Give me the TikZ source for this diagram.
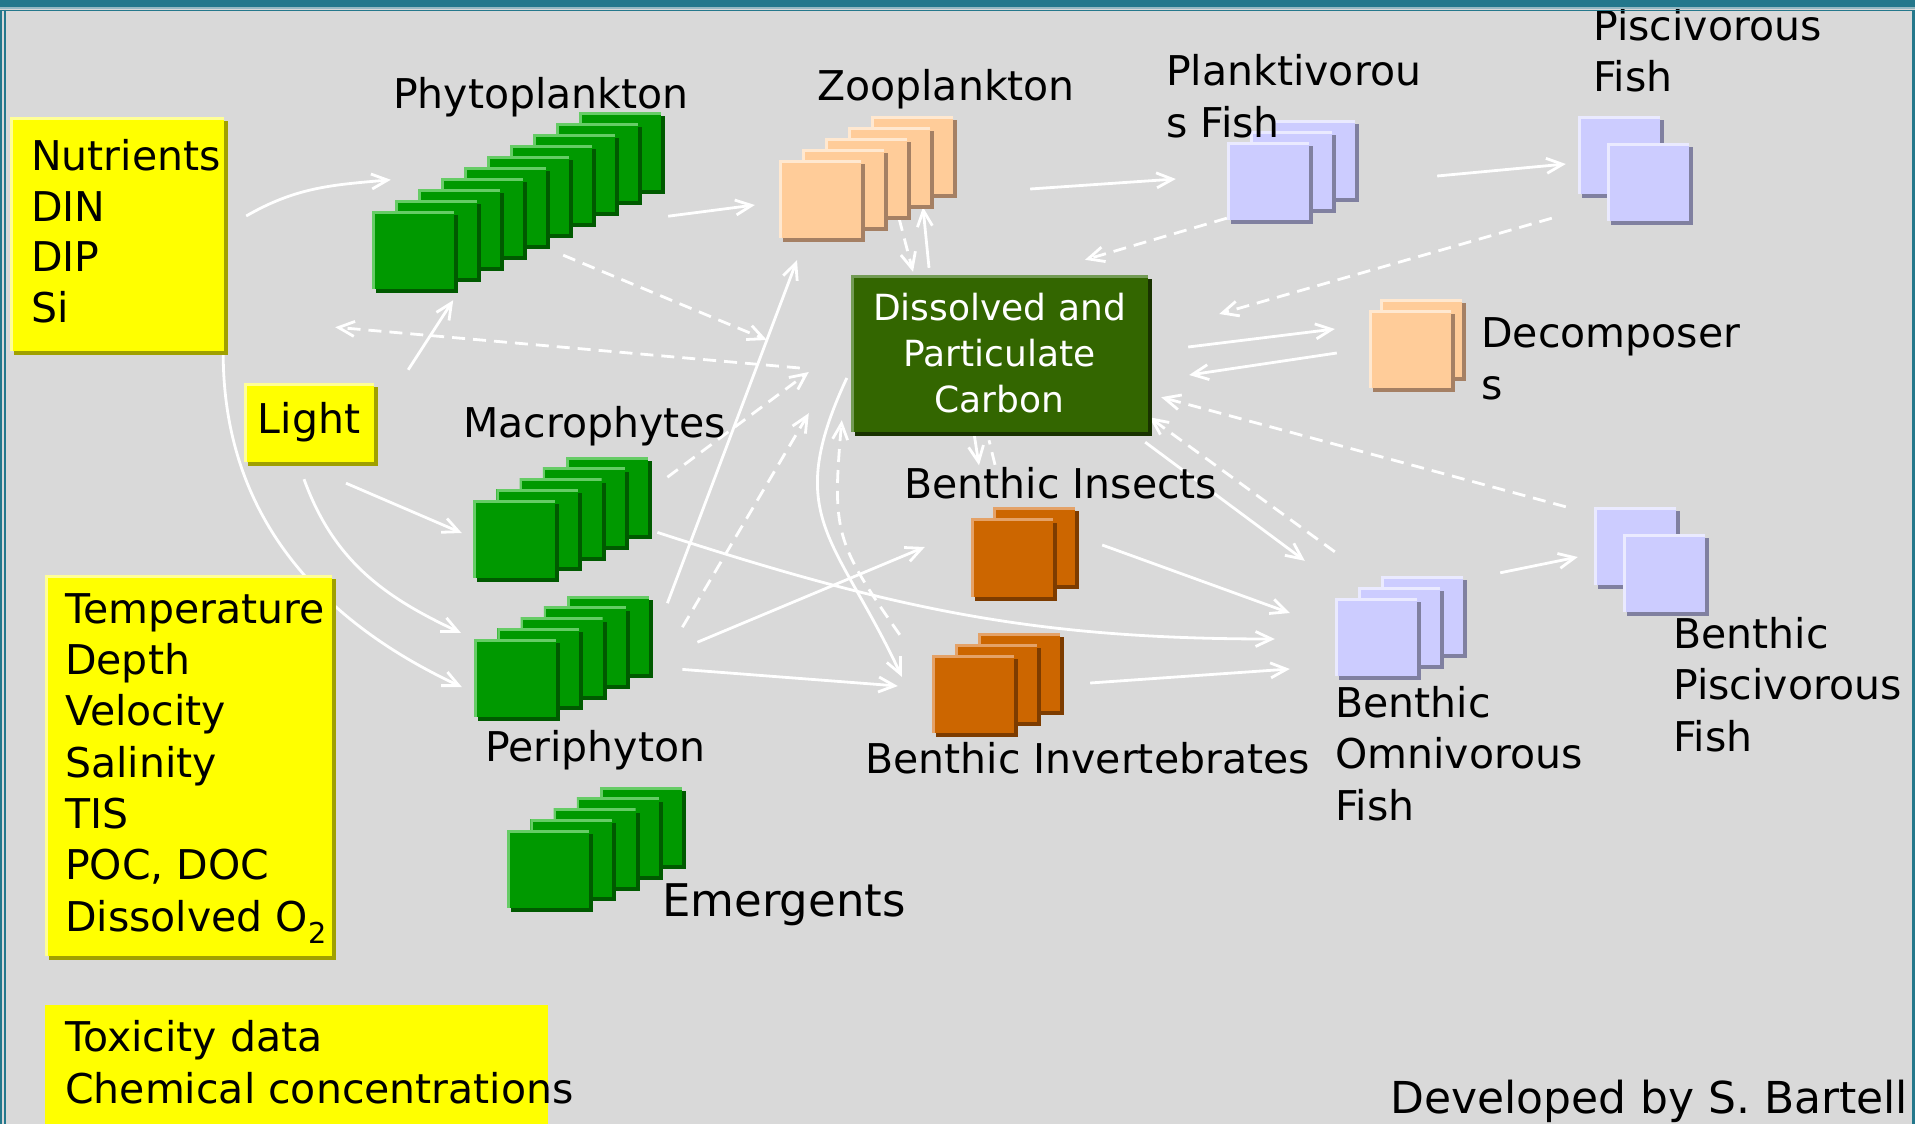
\documentclass[tikz,border=0pt]{standalone}
\usepackage{fontspec}
\setmainfont{DejaVu Sans}
\usetikzlibrary{arrows.meta,shadows}

\definecolor{bggray}{RGB}{217,217,217}
\definecolor{frame}{RGB}{36,120,140}
\definecolor{framelt}{RGB}{150,185,195}
\definecolor{grn}{RGB}{0,153,0}
\definecolor{grnlt}{RGB}{102,204,102}
\definecolor{grndk}{RGB}{0,90,0}
\definecolor{pch}{RGB}{255,204,153}
\definecolor{pchlt}{RGB}{255,232,208}
\definecolor{pchdk}{RGB}{165,128,100}
\definecolor{lav}{RGB}{204,204,255}
\definecolor{lavlt}{RGB}{234,234,255}
\definecolor{lavdk}{RGB}{128,128,160}
\definecolor{org}{RGB}{204,102,0}
\definecolor{orglt}{RGB}{228,162,104}
\definecolor{orgdk}{RGB}{125,60,0}
\definecolor{crb}{RGB}{51,102,0}
\definecolor{crblt}{RGB}{115,155,85}
\definecolor{crbdk}{RGB}{25,50,0}
\definecolor{ylw}{RGB}{255,255,0}
\definecolor{ylwlt}{RGB}{255,255,150}
\definecolor{ylwdk}{RGB}{160,160,0}

\pgfdeclarelayer{paper}
\pgfdeclarelayer{flow}
\pgfsetlayers{paper,flow,main}

\begin{document}
\begin{tikzpicture}[
	x=1pt, y=1pt,
	% multi-line labels are placed by the baseline of their last line
	lbl/.style={font=\fontsize{41}{51.3}\selectfont, align=left, anchor=base west, inner sep=0pt},
	pad/.style n args={3}{rectangle, inner sep=0pt, minimum width=82pt, minimum height=78pt, fill=#1,
		drop shadow={shadow xshift=4pt, shadow yshift=-4pt, fill=#3, opacity=1},
		path picture={\draw[line width=5pt,#2] (path picture bounding box.south west) |- (path picture bounding box.north east);}},
	gp/.style={pad={grn}{grnlt}{grndk}},
	pp/.style={pad={pch}{pchlt}{pchdk}},
	lp/.style={pad={lav}{lavlt}{lavdk}},
	op/.style={pad={org}{orglt}{orgdk}},
	ybox/.style={rectangle, inner sep=0pt, fill=ylw,
		drop shadow={shadow xshift=4pt, shadow yshift=-4pt, fill=ylwdk, opacity=1},
		path picture={\draw[line width=5pt,ylwlt] (path picture bounding box.south west) |- (path picture bounding box.north east);}},
	cbox/.style={rectangle, inner sep=0pt, minimum width=297pt, minimum height=157pt, fill=crb,
		text=white, align=center, font=\fontsize{36}{46}\selectfont,
		drop shadow={shadow xshift=4pt, shadow yshift=-4pt, fill=crbdk, opacity=1},
		path picture={\draw[line width=5pt,crblt] (path picture bounding box.south west) |- (path picture bounding box.north east);}},
	flow/.style={draw=white, line width=2.8pt, -{Straight Barb[length=16pt,width=15pt]}},
	dflow/.style={flow, dash pattern=on 13pt off 8pt},
	]
\useasboundingbox (0,0) rectangle (1915,-1124);
\begin{pgfonlayer}{paper}
	\fill[bggray] (0,0) rectangle (1915,-1124);
\end{pgfonlayer}

% producers
\foreach \i in {9,...,0}
	\node[gp] (phyto\i) at ({413+23*\i},{-250+11*\i}) {};
\foreach \i in {4,...,0}
	\node[gp] (macro\i) at ({514+23.3*\i},{-539+10.7*\i}) {};
\foreach \i in {4,...,0}
	\node[gp] (peri\i) at ({515+23.3*\i},{-678+10.7*\i}) {};
\foreach \i in {4,...,0}
	\node[gp] (emerg\i) at ({548+23.3*\i},{-869+10.7*\i}) {};

% consumers
\foreach \i in {4,...,0}
	\node[pp] (zoo\i) at ({820+23*\i},{-199+11*\i}) {};
\foreach \i in {2,...,0}
	\node[lp] (plankt\i) at ({1268+23*\i},{-181+11*\i}) {};
\node[lp] (pisc0) at (1619,-155) {};
\node[lp] (pisc1) at (1648,-182) {};
\node[pp] (decomp0) at (1421,-338) {};
\node[pp] (decomp1) at (1410,-349) {};
\node[op] (insect0) at (1034,-546) {};
\node[op] (insect1) at (1012,-557.5) {};
\foreach \i in {2,...,0}
	\node[op] (invert\i) at ({973+23*\i},{-694+11*\i}) {};
\foreach \i in {2,...,0}
	\node[lp] (omni\i) at ({1376+23*\i},{-637+11*\i}) {};
\node[lp] (bpisc0) at (1635,-546) {};
\node[lp] (bpisc1) at (1664,-573) {};

\node[cbox] (carbon) at (999.5,-353.5) {Dissolved and\\Particulate\\Carbon};

% driving data
\node[ybox, minimum width=214pt, minimum height=234pt] (nutr) at (117,-234) {};
\node[lbl, font=\fontsize{41}{50.5}\selectfont] (nutrtxt) at (31,-322) {Nutrients\\DIN\\DIP\\Si};
\node[ybox, minimum width=130pt, minimum height=79pt, font=\fontsize{41}{51.3}\selectfont] (light) at (309,-422.5) {Light};
\node[ybox, minimum width=287pt, minimum height=381pt] (env) at (188.5,-765.5) {};
\node[lbl] (envtxt) at (65,-931) {Temperature\\Depth\\Velocity\\Salinity\\TIS\\POC, DOC\\Dissolved O\textsubscript{2}};
\node[rectangle, inner sep=0pt, fill=ylw, minimum width=503pt, minimum height=119pt] (tox) at (296.5,-1064.5) {};
\node[lbl] (toxtxt) at (65,-1103) {Toxicity data\\Chemical concentrations};

% labels
\node[lbl] (phytolbl) at (393,-108) {Phytoplankton};
\node[lbl] (zoolbl) at (817,-100) {Zooplankton};
\node[lbl] (planktlbl) at (1166,-137) {Planktivorou\\s Fish};
\node[lbl] (pisclbl) at (1593,-92) {Piscivorous\\Fish};
\node[lbl] (macrolbl) at (463,-437) {Macrophytes};
\node[lbl] (perilbl) at (485,-761) {Periphyton};
\node[lbl, font=\fontsize{45}{54}\selectfont] (emerglbl) at (662,-916) {Emergents};
\node[lbl] (insectlbl) at (904,-498) {Benthic Insects};
\node[lbl] (invertlbl) at (865,-773) {Benthic Invertebrates};
\node[lbl] (decomplbl) at (1481,-399) {Decomposer\\s};
\node[lbl] (omnilbl) at (1335,-820) {Benthic\\Omnivorous\\Fish};
\node[lbl] (bpisclbl) at (1673,-751) {Benthic\\Piscivorous\\Fish};
\node[lbl, font=\fontsize{44}{53}\selectfont] (credit) at (1390,-1113) {Developed by S. Bartell};

% flows
\begin{pgfonlayer}{flow}
\draw[flow] ([shift={(22,18)}]nutr.east) to[out=30,in=185] ([shift={(19,31)}]phyto0.north west);
\draw[flow] ([shift={(34,13)}]light.north east) -- ([shift={(-1,-11)}]phyto0.south east);
\draw[flow] ([shift={(37,-21)}]light.south) -- ([shift={(-11,6)}]macro0.west);
\draw[flow] ([shift={(-5,-17)}]light.south) to[out=-70,in=155] ([shift={(-13,6)}]peri0.north west);
\draw[flow] ([shift={(-1,-2)}]nutr.south east) to[out=-90,in=155] ([shift={(-12,-9)}]peri0.west);
\draw[flow] ([shift={(7,-26)}]phyto9.south east) -- ([shift={(-24,-6)}]zoo0.west);
\draw[flow] ([shift={(18,32)}]peri4.east) -- ([shift={(-23,-22)}]zoo0.south);
\draw[flow] ([shift={(77,-34)}]zoo4.east) -- ([shift={(-51,2)}]plankt0.west);
\draw[flow] ([shift={(82,-17)}]plankt2.east) -- ([shift={(-12,-9)}]pisc0.west);
\draw[flow] ([shift={(-70.5,7)}]carbon.north) -- ([shift={(11,-13)}]zoo4.south);
\draw[dflow] ([shift={(-13,-24)}]zoo4.south) -- ([shift={(-86.5,3)}]carbon.north);
\draw[flow] ([shift={(40,6.5)}]carbon.east) -- ([shift={(-34,20)}]decomp1.west);
\draw[flow] ([shift={(-32,-4)}]decomp1.west) -- ([shift={(41,-21.5)}]carbon.east);
\draw[flow] ([shift={(-25.5,-1)}]carbon.south) -- ([shift={(-33,53)}]insect1.north);
\draw[dflow, -] ([shift={(-17,53.5)}]insect1.north) -- ([shift={(-10.5,-8)}]carbon.south);
\draw[flow] ([shift={(-3,-10)}]carbon.south east) -- ([shift={(-30,37)}]omni0.north west);
\draw[dflow] ([shift={(0,46)}]omni0.north west) -- ([shift={(1,15)}]carbon.south east);
\draw[dflow] ([shift={(-28,0)}]bpisc0.north west) -- ([shift={(13,35)}]carbon.south east);
\draw[dflow] ([shift={(-55,3)}]pisc1.south west) -- ([shift={(71,39.5)}]carbon.east);
\draw[dflow] ([shift={(0,2)}]plankt0.south west) -- ([shift={(85.5,15)}]carbon.north);
\draw[dflow] ([shift={(17,-10)}]phyto4.south east) -- ([shift={(-84,13.5)}]carbon.west);
\draw[dflow] ([shift={(-51,-14.5)}]carbon.west) -- ([shift={(111,24)}]nutr.south east);
\draw[dflow] ([shift={(19,19)}]macro4.east) -- ([shift={(-42,-18.5)}]carbon.west);
\draw[dflow] ([shift={(33,8)}]peri4.east) -- ([shift={(-42,19)}]carbon.south west);
\draw[flow] ([shift={(9,3)}]macro4.south east) to[out=-18,in=180] ([shift={(-60,-2)}]omni0.west);
\draw[flow] ([shift={(48,-7)}]peri4.east) -- ([shift={(-46,10.5)}]insect1.west);
\draw[flow] ([shift={(33,5)}]peri4.south east) -- ([shift={(-34,8)}]invert0.west);
\draw[flow] ([shift={(49,12.5)}]insect1.east) -- ([shift={(-45,24)}]omni0.west);
\draw[flow] ([shift={(30,-11)}]invert2.east) -- ([shift={(-45,-32)}]omni0.west);
\draw[flow] ([shift={(37,3)}]omni2.north east) -- ([shift={(-16,-11)}]bpisc0.west);
\draw[flow] ([shift={(-4,-24.5)}]carbon.west) to[out=-115,in=115,looseness=1.3] ([shift={(-30,-22)}]invert0.north west);
\draw[dflow] ([shift={(-32,20)}]invert0.north west) to[out=125,in=-95,looseness=1.3] ([shift={(-9,12)}]carbon.south west);
\end{pgfonlayer}

% frame
\fill[frame] (0,0) rectangle (1915,-7);
\draw[framelt, line width=1.5pt] (0,-8.2) -- (1915,-8.2);
\draw[frame, line width=1.6pt] (0,-10.5) -- (1915,-10.5);
\draw[frame, line width=1.5pt] (1.2,-10) -- (1.2,-1124);
\draw[frame, line width=1.5pt] (4.8,-10) -- (4.8,-1124);
\draw[frame, line width=3pt] (1913,-10) -- (1913,-1124);
\end{tikzpicture}
\end{document}
